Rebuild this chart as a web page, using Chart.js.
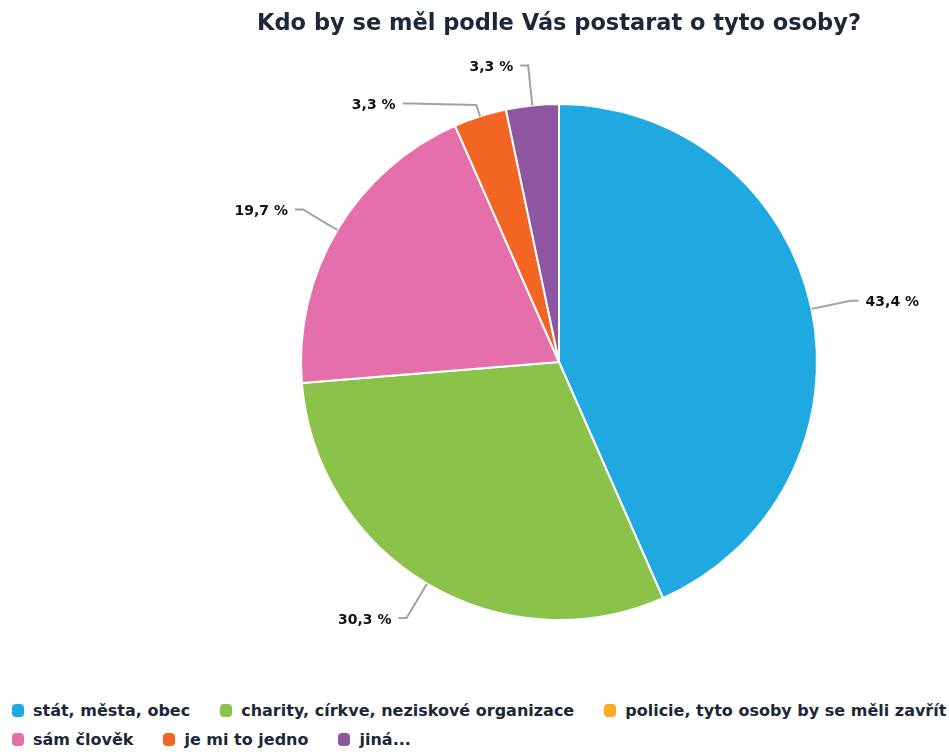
<!DOCTYPE html>
<html>
<head>
<meta charset="utf-8">
<script src="https://cdn.jsdelivr.net/npm/chart.js@4.4.1/dist/chart.umd.min.js"></script>
<style>
	html, body { margin: 0; padding: 0; background: #fff; }
	#wrap { position: relative; width: 949px; height: 752px; overflow: hidden; }
	#box { position: absolute; left: 0; top: 0; width: 949px; height: 690px; }
	#legend { position: absolute; left: 12px; top: 701px; width: 937px; overflow: hidden;
		font: bold 16px "DejaVu Sans", sans-serif; color: #1b2838; }
	.row { white-space: nowrap; height: 29px; }
	.item { display: inline-block; margin-right: 30px; vertical-align: top; }
	.mark { display: inline-block; width: 12px; height: 13px; border-radius: 4px; margin-right: 9px; vertical-align: -1px; }
</style>
</head>
<body>
<div id="wrap">
	<div id="box"><canvas id="pieChart"></canvas></div>
	<div id="legend"></div>
</div>
<script>
'use strict';

var categories = [
	'stát, města, obec',
	'charity, církve, neziskové organizace',
	'policie, tyto osoby by se měli zavřít',
	'sám člověk',
	'je mi to jedno',
	'jiná...'
];
var shares = [43.4, 30.3, 0, 19.7, 3.3, 3.3];
var colors = ['#20a9e1', '#8bc34a', '#fbab22', '#e46fab', '#f26522', '#8e55a0'];
var legendRows = [3, 3];

/* html legend, left aligned, rows cut at the right edge */
function buildLegend() {
	var legend = document.getElementById('legend');
	var k = 0;
	for (var r = 0; r < legendRows.length; r++) {
		var row = document.createElement('div');
		row.className = 'row';
		for (var j = 0; j < legendRows[r]; j++, k++) {
			var item = document.createElement('span');
			item.className = 'item';
			var mark = document.createElement('span');
			mark.className = 'mark';
			mark.style.background = colors[k];
			item.appendChild(mark);
			item.appendChild(document.createTextNode(categories[k]));
			row.appendChild(item);
		}
		legend.appendChild(row);
	}
}
buildLegend();

/* percentage labels outside the pie with leader lines */
var outsideLabels = {
	id: 'outsideLabels',
	afterDatasetsDraw: function (chart) {
		var ctx = chart.ctx;
		var meta = chart.getDatasetMeta(0);
		var values = chart.data.datasets[0].data;
		var left = [], right = [];
		meta.data.forEach(function (arc, i) {
			if (!values[i]) return;
			var p = arc.getProps(['x', 'y', 'startAngle', 'endAngle', 'outerRadius'], true);
			var mid = (p.startAngle + p.endAngle) / 2;
			var R = p.outerRadius + 40;
			var lab = {
				i: i, mid: mid, cx: p.x, cy: p.y, r: p.outerRadius, R: R,
				x: p.x + Math.cos(mid) * R,
				y: p.y + Math.sin(mid) * R
			};
			(lab.x < p.x ? left : right).push(lab);
		});
		[left, right].forEach(function (side) {
			side.sort(function (a, b) { return a.y - b.y; });
			for (var k = 1; k < side.length; k++) {
				if (side[k].y < side[k - 1].y + 38) {
					var s = side[k];
					s.y = side[k - 1].y + 38;
					var dy = s.y - s.cy;
					if (Math.abs(dy) < s.R) {
						var dx = Math.sqrt(s.R * s.R - dy * dy);
						s.x = s.x < s.cx ? s.cx - dx : s.cx + dx;
					}
				}
			}
		});
		ctx.save();
		ctx.strokeStyle = '#a3a3a3';
		ctx.lineWidth = 2;
		ctx.font = 'bold 14px "DejaVu Sans", sans-serif';
		ctx.fillStyle = '#111';
		ctx.textBaseline = 'middle';
		left.concat(right).forEach(function (l) {
			var isLeft = l.x < l.cx;
			var dir = isLeft ? -1 : 1;
			ctx.beginPath();
			ctx.moveTo(l.cx + Math.cos(l.mid) * l.r, l.cy + Math.sin(l.mid) * l.r);
			ctx.lineTo(l.cx + Math.cos(l.mid) * (l.r + 12), l.cy + Math.sin(l.mid) * (l.r + 12));
			ctx.lineTo(l.x, l.y);
			ctx.lineTo(l.x + dir * 8, l.y);
			ctx.stroke();
			ctx.textAlign = isLeft ? 'right' : 'left';
			var txt = values[l.i].toFixed(1).replace('.', ',') + ' %';
			ctx.fillText(txt, l.x + dir * 15, l.y + 2);
		});
		ctx.restore();
	}
};

var pieCtx = document.getElementById('pieChart').getContext('2d');
var chart = new Chart(pieCtx, {
	type: 'pie',
	data: {
		labels: categories,
		datasets: [{
			data: shares,
			backgroundColor: colors,
			borderColor: '#ffffff',
			borderWidth: 2
		}]
	},
	options: {
		responsive: true,
		maintainAspectRatio: false,
		animation: false,
		layout: { padding: { left: 169, right: 0, top: 0, bottom: 69 } },
		plugins: {
			legend: { display: false },
			tooltip: { enabled: false },
			title: {
				display: true,
				text: 'Kdo by se měl podle Vás postarat o tyto osoby?',
				color: '#1b2838',
				font: { family: '"DejaVu Sans", sans-serif', size: 22.5, weight: 'bold', lineHeight: 1.2 },
				padding: { top: 11, bottom: 65 }
			}
		}
	},
	plugins: [outsideLabels]
});
</script>
</body>
</html>
